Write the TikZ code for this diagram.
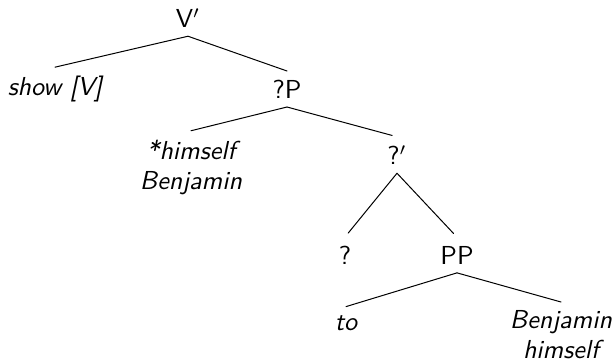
\documentclass[tikz,border=0pt]{standalone}
\begin{document}
\begin{tikzpicture}[x=0.4pt, y=-0.4pt, font=\fontsize{10.4}{12}\sffamily, line join=round, line cap=round]
	\useasboundingbox (0,0) rectangle (614,361);
	\tikzset{leaf/.style={font=\fontsize{10.4}{12}\sffamily\itshape, align=center}}
	\node (vbar) at (188,18) {V$'$};
	\node[leaf] (show) at (55,89) {show [V]};
	\node (qp) at (287,89) {?P};
	\node[leaf] (himself) at (191,167) {*himself\\Benjamin};
	\node (qbar) at (397,155) {?$'$};
	\node (q) at (345,255) {?};
	\node (pp) at (457,255) {PP};
	\node[leaf] (to) at (346,323) {to};
	\node[leaf] (benj) at (561,335) {Benjamin\\himself};
	\draw (vbar.south) -- (show.north);
	\draw (vbar.south) -- (qp.north);
	\draw (qp.south) -- (himself.north);
	\draw[shorten >=2pt] (qp.south) -- (qbar.north);
	\draw[shorten >=2pt] (qbar.south) -- (q.north);
	\draw[shorten >=2pt] (qbar.south) -- (pp.north);
	\draw (pp.south) -- (to.north);
	\draw (pp.south) -- (benj.north);
\end{tikzpicture}
\end{document}
